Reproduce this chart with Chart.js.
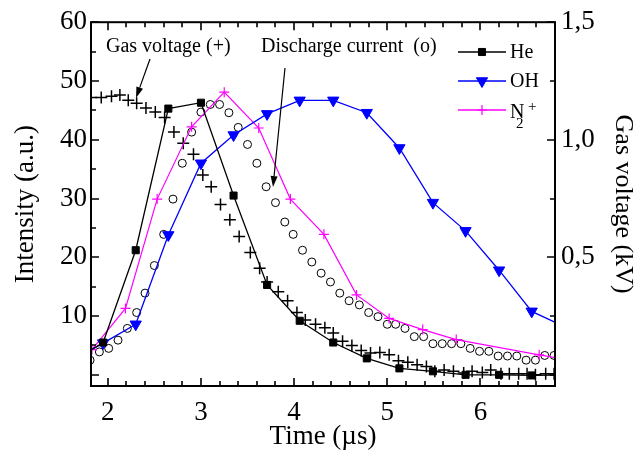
<!DOCTYPE html>
<html>
<head>
<meta charset="utf-8">
<script src="https://cdn.jsdelivr.net/npm/chart.js@4.4.1/dist/chart.umd.min.js"></script>
<style>
  html, body { margin: 0; padding: 0; background: #fff; }
  #wrap { width: 643px; height: 457px; }
</style>
</head>
<body>
<div id="wrap"><canvas id="myChart" width="643" height="457"></canvas></div>
<script>
// emission lines (intensity, a.u.)
var heTime = [1.59, 1.95, 2.30, 2.65, 3.00, 3.35, 3.71, 4.06, 4.42, 4.78, 5.13, 5.49, 5.84, 6.20, 6.55, 6.90];
var heVals = [2.0, 5.5, 21.2, 45.3, 46.3, 30.5, 15.3, 9.2, 5.5, 2.8, 1.1, 0.6, 0.0, 0.0, -0.1, 0.0];

var ohTime = [1.59, 1.95, 2.30, 2.65, 3.00, 3.35, 3.71, 4.06, 4.42, 4.78, 5.13, 5.49, 5.84, 6.20, 6.55, 6.90];
var ohVals = [2.2, 5.4, 8.6, 23.8, 36.0, 40.8, 44.4, 46.7, 46.7, 44.6, 38.6, 29.3, 24.5, 17.8, 10.8, 8.2];

var n2Time = [1.83, 2.19, 2.53, 2.90, 3.25, 3.62, 3.96, 4.32, 4.67, 5.02, 5.38, 5.74, 6.63, 6.99];
var n2Vals = [4.3, 11.3, 29.9, 42.2, 48.1, 42.0, 29.9, 23.9, 13.6, 9.6, 7.7, 6.0, 3.4, 2.4];

// gas voltage (kV, right axis)
var gvTime = [1.82, 1.93, 2.04, 2.13, 2.22, 2.31, 2.41, 2.51, 2.61, 2.71, 2.81, 2.92, 3.02, 3.11, 3.21, 3.31,
  3.41, 3.53, 3.63, 3.71, 3.83, 3.93, 4.03, 4.12, 4.23, 4.33, 4.42, 4.52, 4.62, 4.72, 4.82, 4.92, 5.02,
  5.12, 5.22, 5.32, 5.42, 5.51, 5.61, 5.71, 5.82, 5.91, 6.02, 6.11, 6.22, 6.31, 6.41, 6.50, 6.59, 6.70, 6.79];
var gvVals = [1.180, 1.180, 1.185, 1.190, 1.168, 1.155, 1.135, 1.118, 1.095, 1.033, 0.985, 0.938, 0.850, 0.800, 0.725, 0.660,
  0.588, 0.520, 0.453, 0.395, 0.353, 0.315, 0.265, 0.233, 0.215, 0.200, 0.178, 0.143, 0.125, 0.103, 0.093, 0.095, 0.085,
  0.060, 0.053, 0.043, 0.035, 0.015, 0.021, 0.015, 0.008, 0.015, 0.010, 0.021, 0.005, 0.005, 0.005, 0.005, 0.000, 0.005, 0.005];

// discharge current (same scale as intensity)
var dcTime = [1.81, 1.91, 2.01, 2.11, 2.21, 2.31, 2.40, 2.50, 2.60, 2.70, 2.80, 2.90, 3.00, 3.10, 3.20, 3.30, 3.40,
  3.50, 3.60, 3.70, 3.80, 3.90, 3.99, 4.09, 4.19, 4.29, 4.39, 4.49, 4.59, 4.70, 4.80, 4.90, 5.00, 5.09, 5.19,
  5.29, 5.39, 5.49, 5.59, 5.69, 5.79, 5.89, 5.99, 6.09, 6.19, 6.29, 6.39, 6.49, 6.59, 6.69, 6.79];
var dcVals = [2.5, 3.9, 4.5, 5.9, 7.9, 10.6, 13.9, 18.6, 23.9, 29.9, 36.0, 41.3, 44.7, 46.0, 46.0, 44.6, 42.1,
  39.2, 36.0, 32.0, 29.3, 26.0, 23.9, 21.2, 19.2, 17.3, 15.8, 13.9, 12.6, 11.9, 10.6, 9.9, 8.6, 8.6, 7.9,
  6.5, 6.5, 5.3, 5.3, 5.3, 5.3, 4.5, 4.0, 4.0, 3.2, 3.2, 3.2, 2.5, 2.5, 3.3, 3.3];

var xLabels = [2, 3, 4, 5, 6];
var yLabels = [10, 20, 30, 40, 50, 60];
var y2Labels = [0.5, 1.0, 1.5];

function pts(xs, ys) {
  return xs.map(function (x, i) { return {x: x, y: ys[i]}; });
}
function near(v, list) {
  return list.some(function (l) { return Math.abs(v - l) < 1e-6; });
}

var serif = "'Liberation Serif', 'DejaVu Serif', serif";

// box round the plot with inward ticks on all four sides
var frame = {
  id: 'frame',
  afterDatasetsDraw: function (chart) {
    var ctx = chart.ctx, a = chart.chartArea, s = chart.scales;
    ctx.save();
    ctx.strokeStyle = '#000';
    ctx.lineWidth = 1.6;
    ctx.beginPath();
    s.x.ticks.forEach(function (t) {
      var px = Math.round(s.x.getPixelForValue(t.value));
      var len = near(t.value, xLabels) ? 8 : 5;
      ctx.moveTo(px, a.bottom); ctx.lineTo(px, a.bottom - len);
      ctx.moveTo(px, a.top); ctx.lineTo(px, a.top + len);
    });
    s.y.ticks.forEach(function (t) {
      var py = Math.round(s.y.getPixelForValue(t.value));
      var len = (Math.abs(t.value % 10) < 1e-6) ? 8 : 5;
      ctx.moveTo(a.left, py); ctx.lineTo(a.left + len, py);
    });
    s.y2.ticks.forEach(function (t) {
      var py = Math.round(s.y2.getPixelForValue(t.value));
      var len = near(t.value, y2Labels) ? 8 : 5;
      ctx.moveTo(a.right, py); ctx.lineTo(a.right - len, py);
    });
    ctx.stroke();
    ctx.lineWidth = 2;
    ctx.strokeRect(a.left, a.top, a.right - a.left, a.bottom - a.top);
    ctx.restore();
  }
};

function arrow(ctx, x0, y0, x1, y1) {
  var ang = Math.atan2(y1 - y0, x1 - x0), hl = 11, hw = 3.5;
  ctx.beginPath();
  ctx.moveTo(x0, y0);
  ctx.lineTo(x1 - Math.cos(ang) * hl, y1 - Math.sin(ang) * hl);
  ctx.stroke();
  ctx.beginPath();
  ctx.moveTo(x1, y1);
  ctx.lineTo(x1 - Math.cos(ang) * hl - Math.sin(ang) * hw, y1 - Math.sin(ang) * hl + Math.cos(ang) * hw);
  ctx.lineTo(x1 - Math.cos(ang) * hl + Math.sin(ang) * hw, y1 - Math.sin(ang) * hl - Math.cos(ang) * hw);
  ctx.closePath();
  ctx.fill();
}

// labels with arrows + the legend box in the top right corner
var notes = {
  id: 'notes',
  afterDraw: function (chart) {
    var ctx = chart.ctx;
    ctx.save();
    ctx.fillStyle = '#000';
    ctx.strokeStyle = '#000';
    ctx.lineWidth = 1.2;
    ctx.font = '20px ' + serif;
    ctx.textBaseline = 'middle';
    ctx.textAlign = 'left';
    ctx.fillText('Gas voltage (+)', 106, 47);
    ctx.fillText('Discharge current  (o)', 261, 47);
    arrow(ctx, 150, 59, 136, 98);
    arrow(ctx, 285, 68, 273, 187);

    var rows = [52, 81, 110];
    chart.data.datasets.slice(0, 3).forEach(function (ds, i) {
      var y = rows[i];
      ctx.strokeStyle = ds.borderColor;
      ctx.lineWidth = 1.3;
      ctx.beginPath();
      ctx.moveTo(458, y); ctx.lineTo(506, y);
      ctx.stroke();
      ctx.fillStyle = ds.pointBackgroundColor;
      ctx.strokeStyle = ds.pointBorderColor;
      ctx.lineWidth = ds.pointBorderWidth;
      Chart.helpers.drawPoint(ctx, {pointStyle: ds.pointStyle, radius: ds.pointRadius, rotation: ds.pointRotation || 0, borderWidth: ds.pointBorderWidth}, 482, y);
    });
    ctx.fillStyle = '#000';
    ctx.font = '20px ' + serif;
    ctx.fillText('He', 510, 53);
    ctx.fillText('OH', 510, 82);
    ctx.fillText('N', 510, 113);
    ctx.font = '15px ' + serif;
    ctx.fillText('2', 516, 124);
    ctx.fillText('+', 528, 107);
    ctx.restore();
  }
};

var ctx = document.getElementById('myChart');
var myChart = new Chart(ctx, {
  type: 'line',
  data: {
    datasets: [{
      label: 'He',
      data: pts(heTime, heVals),
      yAxisID: 'y',
      borderColor: '#000',
      borderWidth: 1.3,
      pointStyle: 'rect',
      pointRadius: 5,
      pointBackgroundColor: '#000',
      pointBorderColor: '#000',
      pointBorderWidth: 1,
      clip: 0
    }, {
      label: 'OH',
      data: pts(ohTime, ohVals),
      yAxisID: 'y',
      borderColor: '#0000ff',
      borderWidth: 1.3,
      pointStyle: 'triangle',
      pointRotation: 180,
      pointRadius: 6.5,
      pointBackgroundColor: '#0000ff',
      pointBorderColor: '#0000ff',
      pointBorderWidth: 1,
      clip: 0
    }, {
      label: 'N2+',
      data: pts(n2Time, n2Vals),
      yAxisID: 'y',
      borderColor: '#ff00ff',
      borderWidth: 1.2,
      pointStyle: 'cross',
      pointRadius: 5,
      pointBackgroundColor: '#ff00ff',
      pointBorderColor: '#ff00ff',
      pointBorderWidth: 1.2,
      clip: 0
    }, {
      label: 'Gas voltage',
      data: pts(gvTime, gvVals),
      yAxisID: 'y2',
      showLine: false,
      pointStyle: 'cross',
      pointRadius: 6,
      pointBorderColor: '#000',
      pointBackgroundColor: '#000',
      pointBorderWidth: 1.5,
      clip: 0
    }, {
      label: 'Discharge current',
      data: pts(dcTime, dcVals),
      yAxisID: 'y',
      showLine: false,
      pointStyle: 'circle',
      pointRadius: 4,
      pointBorderColor: '#000',
      pointBackgroundColor: '#fff',
      pointBorderWidth: 1,
      clip: 0
    }]
  },
  plugins: [frame, notes],
  options: {
    responsive: false,
    animation: false,
    layout: { padding: { top: 22, left: 0, right: 0, bottom: 0 } },
    plugins: { legend: { display: false }, tooltip: { enabled: false } },
    elements: { line: { tension: 0 } },
    scales: {
      x: {
        type: 'linear',
        min: 1.82,
        max: 6.8,
        grid: { display: false, drawTicks: false },
        border: { display: false },
        afterFit: function (s) { s.height = 71; },
        ticks: {
          stepSize: 0.2,
          includeBounds: false,
          padding: 11,
          color: '#000',
          font: { family: serif, size: 27 },
          autoSkip: false,
          maxRotation: 0,
          callback: function (v) { return near(v, xLabels) ? String(Math.round(v)) : ''; }
        },
        title: { display: true, text: 'Time (\u00b5s)', color: '#000', font: { family: serif, size: 27 }, padding: { top: 0, bottom: 4 } }
      },
      y: {
        position: 'left',
        min: -1.9,
        max: 60,
        grid: { display: false, drawTicks: false },
        border: { display: false },
        afterFit: function (s) { s.width = 91; },
        ticks: {
          stepSize: 5,
          includeBounds: false,
          padding: 4,
          color: '#000',
          font: { family: serif, size: 27 },
          autoSkip: false,
          callback: function (v) { return near(v, yLabels) ? String(v) : ''; }
        },
        title: { display: true, text: 'Intensity (a.u.)', color: '#000', font: { family: serif, size: 27 }, padding: { top: 10, bottom: 0 } }
      },
      y2: {
        position: 'right',
        min: -0.0475,
        max: 1.5,
        grid: { display: false, drawTicks: false },
        border: { display: false },
        afterFit: function (s) { s.width = 88; },
        ticks: {
          stepSize: 0.25,
          includeBounds: false,
          padding: 6,
          color: '#000',
          font: { family: serif, size: 27 },
          autoSkip: false,
          callback: function (v) { return near(v, y2Labels) ? v.toFixed(1).replace('.', ',') : ''; }
        },
        title: { display: true, text: 'Gas voltage (kV)', color: '#000', font: { family: serif, size: 26 }, padding: { top: 5, bottom: 0 } }
      }
    }
  }
});
</script>
</body>
</html>
